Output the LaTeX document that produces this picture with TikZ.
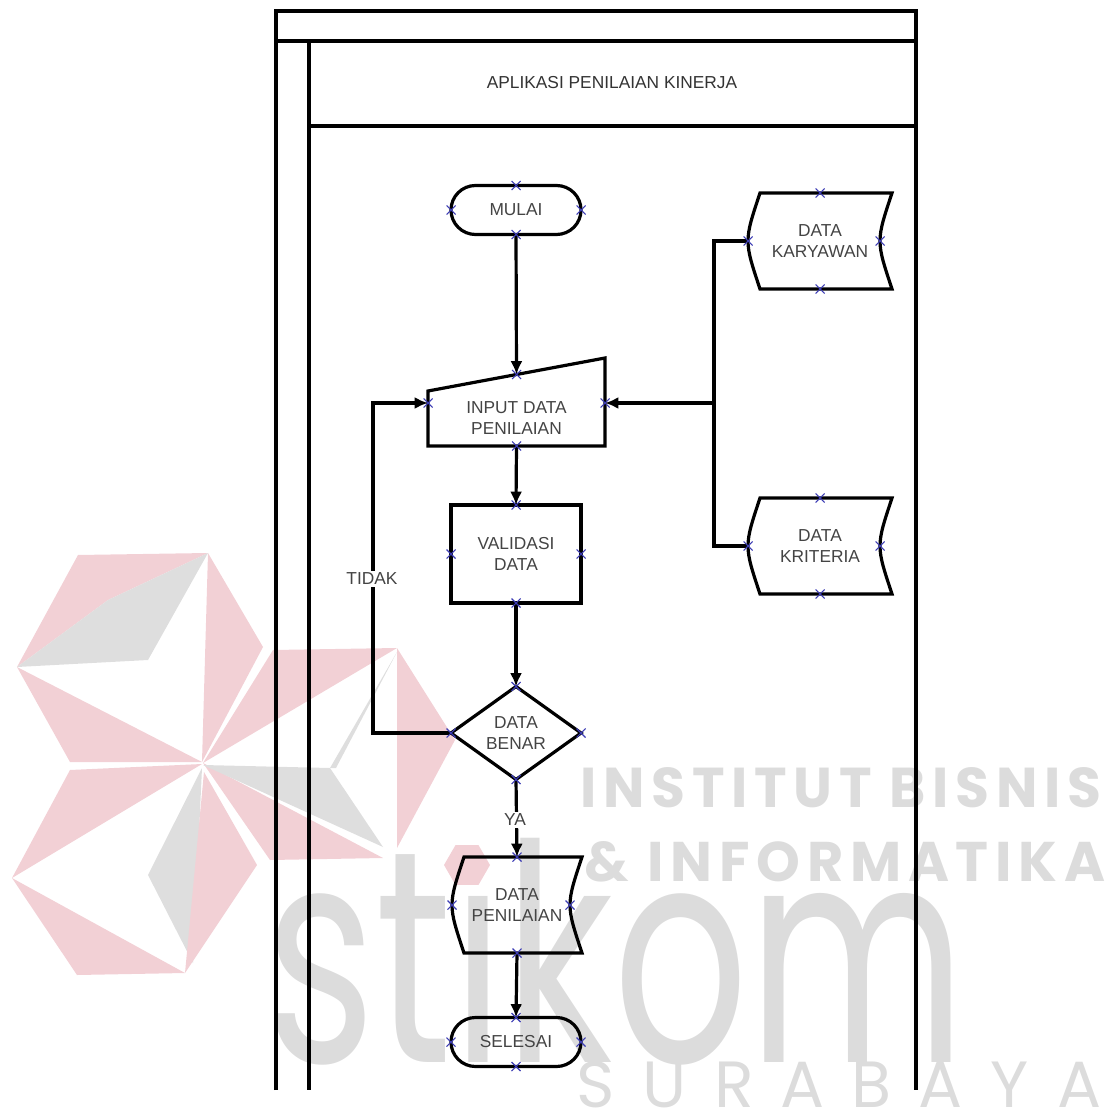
\documentclass[tikz,border=0pt]{standalone}
\usepackage{graphicx}
\usepackage{fontspec}
\setmainfont{Liberation Sans}
\newfontfamily\wmfont{Poppins}
\newfontfamily\wmspaced[LetterSpace=12]{Poppins}
\usetikzlibrary{shapes.geometric, calc}
\usetikzlibrary{arrows.meta}

\definecolor{wmred}{HTML}{F2D0D5}
\definecolor{wmgray}{HTML}{DEDEDE}
\definecolor{wmtext}{HTML}{DCDCDC}
\definecolor{txtgray}{HTML}{444444}
\definecolor{cpblue}{HTML}{3C3CB4}

\tikzset{
  base/.style={font=\fontsize{13}{15.75}\selectfont, text=txtgray, align=center, inner sep=0pt, outer sep=0pt},
  terminal/.style={base, draw, line width=2.4pt, rounded corners=18.375pt, minimum width=97.5pt, minimum height=36.75pt},
  process/.style={base, draw, line width=2.4pt, minimum width=97.5pt, minimum height=73.5pt},
  decision/.style={base, draw, line width=2.4pt, diamond, aspect=1.4, minimum width=97.5pt, minimum height=69.75pt},
  manual/.style={base, minimum width=132.75pt, minimum height=41.25pt},
  stored/.style={base, minimum width=108pt, minimum height=72pt},
  lbl/.style={base, fill=white, inner sep=1.5pt},
  wmtxt/.style={inner sep=0pt, outer sep=0pt, text=wmtext},
  line/.style={line width=2.4pt},
  frame/.style={line width=2.6pt},
  cpmark/.style={draw=cpblue, line width=0.8pt},
}

\begin{document}
\begin{tikzpicture}[x=0.75pt,y=-0.75pt,>={Latex[length=10pt,width=9pt]}]
  \useasboundingbox (0,0) rectangle (1116,1112);

  % 透かし（ロゴ）
  \fill[wmred] (78,555) -- (208,553) -- (108,600) -- (17,667) -- cycle;
  \fill[wmred] (208,553) -- (263,647) -- (202,762) -- cycle;
  \fill[wmred] (17,667) -- (202,762) -- (70,762) -- cycle;
  \fill[wmgray] (17,667) -- (108,600) -- (208,553) -- (148,660) -- cycle;
  \fill[wmred] (70,770) -- (202,764) -- (12,878) -- cycle;
  \fill[wmgray] (202,768) -- (148,875) -- (193,963) -- cycle;
  \fill[wmred] (204,772) -- (257,865) -- (185,973) -- cycle;
  \fill[wmred] (12,878) -- (185,973) -- (77,975) -- cycle;
  \fill[wmred] (273,650) -- (397,648) -- (203,763) -- cycle;
  \fill[wmred] (397,648) -- (455,740) -- (397,848) -- cycle;
  \fill[wmred] (203,763) -- (270,860) -- (383,858) -- cycle;
  \fill[wmgray] (203,765) -- (330,768) -- (383,847) -- cycle;
  \fill[wmgray] (330,768) -- (397,652) -- (336,768) -- cycle;

  % 透かし（文字）
  \node[wmtxt] (wm-a) at (841,788) {\resizebox{390pt}{30pt}{\wmspaced\bfseries INSTITUT BISNIS}};
  \node[wmtxt] (wm-b) at (845,862) {\resizebox{390pt}{30pt}{\wmspaced\bfseries \& INFORMATIKA}};
  \node[wmtxt, anchor=base west] (wm-c) at (265,1062) {\resizebox{525pt}{168pt}{\wmfont stıkom}};
  \fill[wmred] (490,865) -- (478.5,845.1) -- (455.5,845.1) -- (444,865) -- (455.5,884.9) -- (478.5,884.9) -- cycle; % i の点
  \foreach \c [count=\i from 0] in {S,U,R,A,B,A,Y,A} {
    \node[wmtxt, font=\wmfont\fontsize{49}{49}\selectfont] (sb-\i) at (596+69*\i,1085) {\c};
  }

  % 枠（スイムレーン）
  \draw[frame] (276,1090) -- (276,11) -- (916,11) -- (916,1090);
  \draw[frame] (276,41) -- (916,41);
  \draw[frame] (309,41) -- (309,1090);
  \draw[frame] (309,126) -- (916,126);
  \node[base, text=black!80] (title) at (612,83) {APLIKASI PENILAIAN KINERJA};

  % 記号
  \node[terminal] (mulai) at (516,210) {MULAI};
  \node[manual] (input) at (516.5,418.5) {INPUT DATA\\PENILAIAN};
  \node[process] (valid) at (516,554) {VALIDASI\\DATA};
  \node[decision] (benar) at (516,733) {DATA\\BENAR};
  \node[stored, minimum width=97.5pt] (penilaian) at (517,905) {DATA\\PENILAIAN};
  \node[terminal] (selesai) at (516,1042) {SELESAI};
  \node[stored] (karyawan) at (820,241) {DATA\\KARYAWAN};
  \node[stored] (kriteria) at (820,546) {DATA\\KRITERIA};

  \draw[line] (input.south west) -- (input.north west) -- ($(input.north east)+(0,-33)$) -- (input.south east) -- cycle; % 上辺が斜め
  \coordinate (input-top) at ($(input.north)+(0,-16.5)$);
  \coordinate (input-w) at ($(input.west)+(0,-15.5)$);
  \coordinate (input-e) at ($(input.east)+(0,-15.5)$);
  \foreach \nm in {karyawan,kriteria,penilaian} { % 記憶データの形
    \draw[line] ($(\nm.north west)+(12,0)$) -- (\nm.north east) .. controls ($(\nm.east)+(-16,0)$) .. (\nm.south east)
      -- ($(\nm.south west)+(12,0)$) .. controls ($(\nm.west)+(-4,0)$) .. cycle;
    \coordinate (\nm-e) at ($(\nm.east)+(-12,0)$);
  }

  % 矢印
  \draw[line,->] (mulai.south) -- (input-top);
  \draw[line,->] (input.south) -- (valid.north);
  \draw[line,->] (valid.south) -- (benar.north);
  \draw[line,->] (benar.south) -- (penilaian.north);
  \draw[line,->] (penilaian.south) -- (selesai.north);
  \node[lbl] (ya) at (515,820) {YA};
  \coordinate (join) at (714,403);
  \draw[line] (karyawan.west) -| (join);
  \draw[line] (kriteria.west) -| (join);
  \draw[line,->] (join) -- (input-e);
  \draw[line,->] (benar.west) -- ++(-78,0) |- (input-w); % 戻り
  \node[lbl] (tidak) at (372,579) {TIDAK};

  % 接続点の×印
  \foreach \p in {mulai.north,mulai.south,mulai.west,mulai.east,
                  input-top,input-w,input-e,input.south,
                  valid.north,valid.south,valid.west,valid.east,
                  benar.north,benar.south,benar.west,benar.east,
                  penilaian.north,penilaian.south,penilaian.west,penilaian-e,
                  selesai.north,selesai.south,selesai.west,selesai.east,
                  karyawan.north,karyawan.south,karyawan.west,karyawan-e,
                  kriteria.north,kriteria.south,kriteria.west,kriteria-e} {
    \draw[cpmark] (\p) +(-4.5,-4.5) -- +(4.5,4.5) +(-4.5,4.5) -- +(4.5,-4.5);
  }
\end{tikzpicture}
\end{document}
